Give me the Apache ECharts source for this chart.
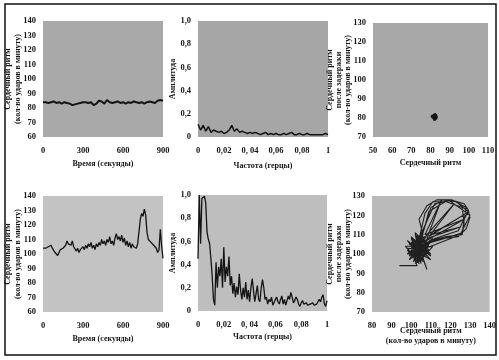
<!DOCTYPE html>
<html><head><meta charset="utf-8">
<script src="https://cdn.jsdelivr.net/npm/echarts@6/dist/echarts.min.js"></script>
<style>html,body{margin:0;padding:0;background:#fff}#c{width:499px;height:360px}</style>
</head><body><div id="c"></div>
<script>
// ---------- DATA ----------
// Panel 1: heart rate over time (step 20 s)
const hr1Step = 20;
const hr1 = [84,84,83.5,84,84.5,83.5,84,83,84,83.5,83,82,82.5,83,83.5,84,84,83.5,84,82,83,85,84.5,83,85.5,84,83.5,84,84.5,83.5,84,83,84,83.5,84.5,84,83.5,84,83,84,84.5,84,83.5,85,85.5,85];
// Panel 2: amplitude spectrum (step 0.002 Hz)
const amp2Step = 0.002;
const amp2 = [0.11,0.06,0.1,0.05,0.09,0.04,0.06,0.05,0.04,0.05,0.03,0.04,0.06,0.1,0.05,0.07,0.04,0.05,0.04,0.03,0.04,0.03,0.04,0.03,0.02,0.03,0.04,0.02,0.03,0.02,0.03,0.02,0.02,0.03,0.02,0.03,0.04,0.02,0.02,0.03,0.02,0.02,0.03,0.02,0.02,0.02,0.02,0.02,0.02,0.03,0.02];
// Panel 3: delay plot (heart rate vs delayed heart rate)
const delay3X = [81.5,82.5,83,82,81,80.5,81.5,82.8,83.2,82,81,81.8,82.6,81.3,80.8,82.2,83,81.7];
const delay3Y = [80,81.5,80.5,79.5,80,81,82,81.8,80.2,78.8,79.5,80.8,79.8,81.2,80.2,82.2,81,79.2];
// Panel 4: heart rate over time (step 10 s)
const hr4Step = 10;
const hr4 = [104,103,104,103,105,104,106,104,103,101,102,99,101,103,102,104,103,106,109,107,108,106,109,105,104,102,104,101,103,102,105,103,106,104,107,105,108,104,106,103,107,105,108,106,110,107,109,106,110,108,112,107,109,106,111,114,110,112,109,113,108,111,106,109,105,108,104,107,105,106,104,107,106,124,128,126,131,127,115,110,111,108,109,106,107,104,101,103,117,105,97];
// Panel 5: amplitude spectrum (step 0.001 Hz)
const amp5Step = 0.001;
const amp5 = [0.45,1.0,0.58,0.97,0.96,0.99,0.93,0.68,0.62,0.58,0.45,0.3,0.1,0.05,0.42,0.2,0.38,0.3,0.45,0.2,0.55,0.25,0.38,0.3,0.47,0.22,0.3,0.15,0.24,0.12,0.21,0.14,0.32,0.18,0.1,0.2,0.12,0.25,0.1,0.18,0.08,0.2,0.28,0.18,0.08,0.15,0.22,0.1,0.08,0.2,0.27,0.2,0.1,0.12,0.06,0.1,0.08,0.12,0.05,0.04,0.1,0.12,0.08,0.06,0.1,0.13,0.06,0.1,0.05,0.09,0.13,0.1,0.16,0.12,0.07,0.09,0.12,0.1,0.06,0.04,0.07,0.09,0.06,0.05,0.07,0.05,0.04,0.06,0.05,0.07,0.05,0.04,0.06,0.05,0.1,0.08,0.12,0.14,0.06,0.04,0.09];
// Panel 6: delay plot
const delay6X = [94,103,101,104,99,106,102,108,100,105,103,109,98,104,107,101,110,103,99,106,102,108,104,100,111,105,103,107,98,105,109,102,106,100,104,108,101,105,103,107,99,110,104,102,106,103,108,105,104,
  97,104,100,108,102,111,99,105,103,109,101,106,98,107,104,100,110,102,105,103,108,101,99,106,104,102,109,100,105,103,107,101,104,98,106,102,110,103,105,100,
  106,104,108,113,120,127,129,130,128,124,116,108,105,103,105,107,111,118,126,127,126,118,110,104,102,106,110,116,123,129,124,112,103,108,122,109,128,110,125,108,115,107,127,106,
  104,112,121,128,126,117,107,105,109,119,130,125,110,105];
const delay6Y = [94,94,99,103,101,105,98,104,106,100,108,102,103,96,107,104,106,100,97,109,105,99,107,102,104,97,110,101,100,106,108,101,103,108,99,106,96,104,102,109,105,100,105,99,100,106,92,101,104,
  104,96,109,101,95,108,99,110,97,105,102,96,107,99,108,103,97,106,95,109,102,100,97,108,98,111,104,105,99,106,103,107,95,102,97,110,99,104,108,100,
  110,118,125,128,128,126,123,119,113,109,108,106,103,104,112,121,127,127,124,116,110,109,107,102,103,111,124,128,127,122,112,108,101,110,126,109,121,110,114,108,127,110,118,106,
  108,126,128,124,111,108,105,107,122,128,120,110,104,102];
// Tick labels
const hrTicks = ['60','70','80','90','100','110','120','130','140'];
const ampTicks = ['0','0,2','0,4','0,6','0,8','1,0'];
const freqTicks = ['0','0,02','0, 04','0,06','0,08','1'];
// Axis titles
const tTime = 'Время (секунды)';
const tHR = 'Сердечный ритм\n(кол-во ударов в минуту)';
const tAmp = 'Амплитуда';
const tFreq = 'Частота (герцы)';
const tDelay = 'Сердечный ритм\nпосле задержки\n(кол-во ударов в минуту)';
const tHR2 = 'Сердечный ритм';
const tHR3 = 'Сердечный ритм\n(кол-во ударов в минуту)';

// ---------- CHART ----------
const FONT = '"Liberation Serif", serif';
const INK = '#141414';
const lab = {fontFamily: FONT, fontSize: 8.5, fontWeight: 'bold', color: INK};
const nameStyle = {fontFamily: FONT, fontSize: 8, fontWeight: 'bold', color: INK, lineHeight: 10};
const nameStyle3 = Object.assign({}, nameStyle, {lineHeight: 9});

function xAx(gi, min, max, interval, name, gap, fmt) {
  return {type:'value', gridIndex:gi, min, max, interval, name, nameLocation:'middle', nameGap:gap, nameMoveOverlap:false,
    nameTextStyle:nameStyle, axisLine:{show:false}, axisTick:{show:false}, splitLine:{show:false},
    axisLabel:Object.assign({margin:9, showMaxLabel:true, showMinLabel:true, formatter:fmt}, lab)};
}
function yAx(gi, min, max, interval, name, gap, fmt, ns) {
  return {type:'value', gridIndex:gi, min, max, interval, name, nameLocation:'middle', nameGap:gap, nameMoveOverlap:false,
    nameTextStyle:ns || nameStyle, axisLine:{show:false}, axisTick:{show:false}, splitLine:{show:false},
    axisLabel:Object.assign({margin:7, formatter:fmt}, lab)};
}
const hrFmt = v => hrTicks[Math.round((v-60)/10)] !== undefined ? hrTicks[Math.round((v-60)/10)] : String(v);
const ampFmt = v => ampTicks[Math.round(v/0.2)];
const freqFmt = v => freqTicks[Math.round(v/0.02)];

const grids = [
  {left:43, top:21, width:120, height:116, bg:'#a9a9a9'},
  {left:198, top:21, width:130, height:116, bg:'#a6a6a6'},
  {left:373, top:23, width:115, height:114, bg:'#a8a8a8'},
  {left:43, top:196, width:120, height:116, bg:'#c3c3c3'},
  {left:198, top:195, width:129, height:116, bg:'#bebebe'},
  {left:372, top:196, width:121, height:116, bg:'#bababa'}
].map(g => ({left:g.left, top:g.top, width:g.width, height:g.height, show:true, backgroundColor:g.bg, borderWidth:0}));

const option = {
  animation:false,
  backgroundColor:'#fff',
  grid: grids,
  xAxis: [
    xAx(0, 0, 900, 300, tTime, 22),
    xAx(1, 0, 0.1, 0.02, tFreq, 24, freqFmt),
    xAx(2, 50, 110, 10, tHR2, 21),
    xAx(3, 0, 900, 300, tTime, 22),
    xAx(4, 0, 0.1, 0.02, tFreq, 21, freqFmt),
    xAx(5, 80, 140, 10, tHR3, 14)
  ],
  yAxis: [
    yAx(0, 60, 140, 10, tHR, 20, hrFmt),
    yAx(1, 0, 1, 0.2, tAmp, 20, ampFmt),
    yAx(2, 70, 130, 10, tDelay, 21, undefined, nameStyle3),
    yAx(3, 60, 140, 10, tHR, 20, hrFmt),
    yAx(4, 0, 1, 0.2, tAmp, 20, ampFmt),
    yAx(5, 70, 130, 10, tDelay, 20, undefined, nameStyle3)
  ],
  series: [
    {type:'line', xAxisIndex:0, yAxisIndex:0, showSymbol:false, lineStyle:{color:INK, width:2}, data: hr1.map((v,i)=>[i*hr1Step, v])},
    {type:'line', xAxisIndex:1, yAxisIndex:1, showSymbol:false, lineStyle:{color:INK, width:1.5}, data: amp2.map((v,i)=>[i*amp2Step, v])},
    {type:'line', xAxisIndex:2, yAxisIndex:2, showSymbol:false, lineStyle:{color:INK, width:2.5}, data: delay3X.map((v,i)=>[v, delay3Y[i]])},
    {type:'line', xAxisIndex:3, yAxisIndex:3, showSymbol:false, lineStyle:{color:INK, width:1.3}, data: hr4.map((v,i)=>[i*hr4Step, v])},
    {type:'line', xAxisIndex:4, yAxisIndex:4, showSymbol:false, lineStyle:{color:INK, width:1.3}, data: amp5.map((v,i)=>[i*amp5Step, v])},
    {type:'line', xAxisIndex:5, yAxisIndex:5, showSymbol:false, lineStyle:{color:'#202020', width:1.1}, data: delay6X.map((v,i)=>[v, delay6Y[i]])}
  ],
  graphic: [
    {type:'rect', shape:{x:5, y:4, width:491, height:351}, style:{fill:'none', stroke:'#111', lineWidth:1.5}, silent:true, z:-1}
  ]
};
const chart = echarts.init(document.getElementById('c'), null, {renderer:'canvas'});
chart.setOption(option);
</script>
</body></html>
